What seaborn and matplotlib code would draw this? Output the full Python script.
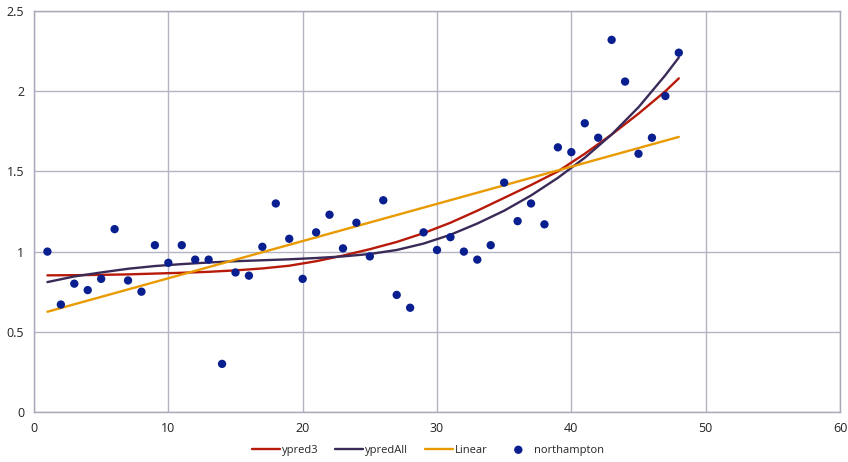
import numpy as np
import pandas as pd
import matplotlib
matplotlib.use("Agg")
import matplotlib.pyplot as plt
import seaborn as sns

# Observed points (northampton)
obs_x = list(range(1, 49))
obs_y = [1.00, 0.67, 0.80, 0.76, 0.83, 1.14, 0.82, 0.75, 1.04, 0.93,
         1.04, 0.95, 0.95, 0.30, 0.87, 0.85, 1.03, 1.30, 1.08, 0.83,
         1.12, 1.23, 1.02, 1.18, 0.97, 1.32, 0.73, 0.65, 1.12, 1.01,
         1.09, 1.00, 0.95, 1.04, 1.43, 1.19, 1.30, 1.17, 1.65, 1.62,
         1.80, 1.71, 2.32, 2.06, 1.61, 1.71, 1.97, 2.24]

# Fitted curves
curve_x = [1, 3, 5, 7, 9, 11, 13, 15, 17, 19, 21, 23, 25, 27, 29, 31, 33,
           35, 37, 39, 41, 43, 45, 47, 48]
ypred3 = [0.852, 0.853, 0.855, 0.858, 0.863, 0.868, 0.874, 0.883, 0.895,
          0.912, 0.940, 0.975, 1.015, 1.060, 1.115, 1.180, 1.255, 1.335,
          1.415, 1.500, 1.610, 1.730, 1.860, 2.000, 2.080]
ypredAll = [0.810, 0.845, 0.870, 0.893, 0.910, 0.922, 0.932, 0.940, 0.946,
            0.952, 0.960, 0.970, 0.985, 1.010, 1.050, 1.105, 1.175, 1.255,
            1.350, 1.460, 1.585, 1.730, 1.900, 2.100, 2.210]
linear_x = [1, 48]
linear_y = [0.625, 1.715]

x_ticks = [0, 10, 20, 30, 40, 50, 60]
y_ticks = [0, 0.5, 1, 1.5, 2, 2.5]
y_tick_labels = ["0", "0.5", "1", "1.5", "2", "2.5"]

sns.set_theme(style="white")
plt.rcParams['font.family'] = ['Open Sans', 'DejaVu Sans']

fig = plt.figure(figsize=(8.48, 4.62), dpi=100)
ax = fig.add_axes([34/848, 1-412/462, (840-34)/848, (412-11)/462])

c_red = "#B81A0A"
c_purple = "#3A2A58"
c_orange = "#E89A00"
c_dot = "#0A1F8F"

sns.lineplot(x=curve_x, y=ypred3, ax=ax, color=c_red, linewidth=1.7, label="ypred3")
sns.lineplot(x=curve_x, y=ypredAll, ax=ax, color=c_purple, linewidth=1.7, label="ypredAll")
sns.lineplot(x=linear_x, y=linear_y, ax=ax, color=c_orange, linewidth=1.7, label="Linear")
sns.scatterplot(x=obs_x, y=obs_y, ax=ax, color=c_dot, s=36, edgecolor="none",
                label="northampton", zorder=5)

ax.set_xlim(0, 60)
ax.set_ylim(0, 2.5)
ax.set_xticks(x_ticks)
ax.set_yticks(y_ticks)
ax.set_yticklabels(y_tick_labels)
ax.grid(True, color="#B4B4C4", linewidth=1.0)
ax.set_axisbelow(True)
for s in ax.spines.values():
    s.set_color("#A8A8B8")
    s.set_linewidth(1.0)
ax.tick_params(axis="both", length=0, labelsize=9, colors="#222222", pad=7)

ax.get_legend().remove()
h, l = ax.get_legend_handles_labels()
fig.legend(h, l, loc="lower center", ncol=4, frameon=False, fontsize=8,
           bbox_to_anchor=(0.505, -0.008), handlelength=2.5, columnspacing=1.5,
           handletextpad=0.2)

fig.savefig("out.png", dpi=100, facecolor="white")
